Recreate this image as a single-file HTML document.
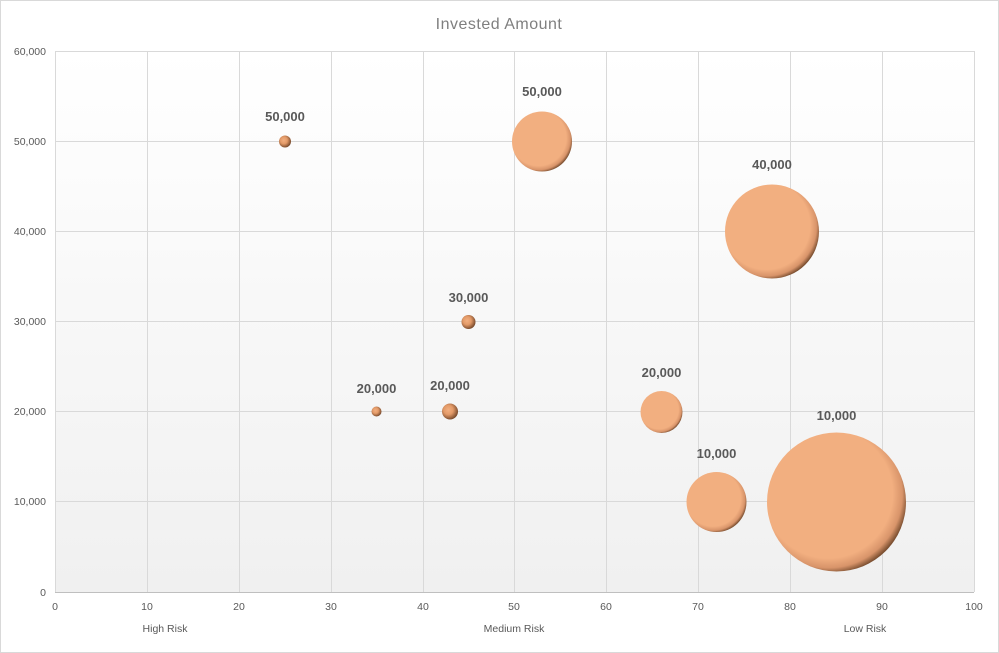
<!DOCTYPE html>
<html><head><meta charset="utf-8"><style>
body{margin:0;background:#fff}
svg{display:block;font-family:"Liberation Sans",sans-serif}
</style></head><body>
<svg width="999" height="653" viewBox="0 0 999 653">
<defs>
<linearGradient id="bg" x1="0" y1="0" x2="0" y2="1"><stop offset="0" stop-color="#ffffff"/><stop offset="1" stop-color="#f0f0f0"/></linearGradient>
<radialGradient id="bub" cx="0.44" cy="0.44" r="0.58"><stop offset="0" stop-color="#F2AF80"/><stop offset="0.8" stop-color="#F2AF80"/><stop offset="0.92" stop-color="#d8946a"/><stop offset="1" stop-color="#7a4e30"/></radialGradient>
<radialGradient id="sm" cx="0.4" cy="0.4" r="0.65"><stop offset="0" stop-color="#F2AF80"/><stop offset="0.45" stop-color="#e39a68"/><stop offset="1" stop-color="#6e4226"/></radialGradient>
</defs>
<rect x="0.5" y="0.5" width="998" height="652" fill="#fff" stroke="#d9d9d9"/>
<rect x="55" y="51" width="919" height="541" fill="url(#bg)"/>
<g stroke="#d9d9d9" stroke-width="1">
<line x1="55" y1="51.5" x2="974" y2="51.5"/><line x1="55" y1="141.5" x2="974" y2="141.5"/><line x1="55" y1="231.5" x2="974" y2="231.5"/><line x1="55" y1="321.5" x2="974" y2="321.5"/><line x1="55" y1="411.5" x2="974" y2="411.5"/><line x1="55" y1="501.5" x2="974" y2="501.5"/>
<line x1="55.5" y1="51" x2="55.5" y2="592"/><line x1="147.5" y1="51" x2="147.5" y2="592"/><line x1="239.5" y1="51" x2="239.5" y2="592"/><line x1="331.5" y1="51" x2="331.5" y2="592"/><line x1="423.5" y1="51" x2="423.5" y2="592"/><line x1="514.5" y1="51" x2="514.5" y2="592"/><line x1="606.5" y1="51" x2="606.5" y2="592"/><line x1="698.5" y1="51" x2="698.5" y2="592"/><line x1="790.5" y1="51" x2="790.5" y2="592"/><line x1="882.5" y1="51" x2="882.5" y2="592"/><line x1="974.5" y1="51" x2="974.5" y2="592"/>
</g>
<line x1="55" y1="592.5" x2="974" y2="592.5" stroke="#bfbfbf"/>
<text x="499" y="29" text-anchor="middle" font-size="16" fill="#7f7f7f" letter-spacing="0.5">Invested  Amount</text>
<g font-size="10.5" fill="#595959" text-anchor="end">
<text x="46" y="55">60,000</text><text x="46" y="145">50,000</text><text x="46" y="235">40,000</text><text x="46" y="325">30,000</text><text x="46" y="415">20,000</text><text x="46" y="505">10,000</text><text x="46" y="596">0</text>
</g>
<g font-size="10.5" fill="#595959" text-anchor="middle">
<text x="55" y="610">0</text><text x="147" y="610">10</text><text x="239" y="610">20</text><text x="331" y="610">30</text><text x="423" y="610">40</text><text x="514" y="610">50</text><text x="606" y="610">60</text><text x="698" y="610">70</text><text x="790" y="610">80</text><text x="882" y="610">90</text><text x="974" y="610">100</text>
<text x="165" y="632">High Risk</text><text x="514" y="632">Medium Risk</text><text x="865" y="632">Low Risk</text>
</g>
<g fill="url(#sm)">
<circle cx="285" cy="141.5" r="6"/><circle cx="468.5" cy="322" r="7"/><circle cx="376.5" cy="411.5" r="5"/><circle cx="450" cy="411.5" r="8"/>
</g>
<g fill="url(#bub)">
<circle cx="542" cy="141.5" r="30"/><circle cx="772" cy="231.5" r="47"/><circle cx="661.5" cy="412" r="21"/><circle cx="716.5" cy="502" r="30"/><circle cx="836.5" cy="502" r="69.5"/>
</g>
<g font-size="13" font-weight="bold" fill="#595959" text-anchor="middle">
<text x="285" y="121">50,000</text><text x="542" y="96">50,000</text><text x="772" y="169">40,000</text><text x="468.5" y="302">30,000</text><text x="376.5" y="393">20,000</text><text x="450" y="390">20,000</text><text x="661.5" y="377">20,000</text><text x="716.5" y="458">10,000</text><text x="836.5" y="420">10,000</text>
</g>
</svg>
</body></html>
